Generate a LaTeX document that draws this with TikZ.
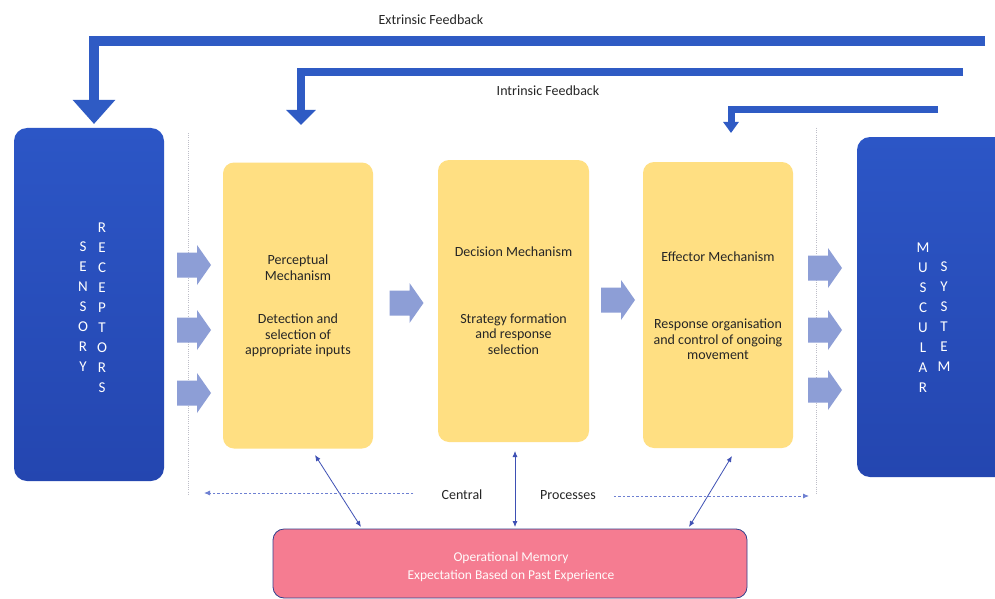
\documentclass[tikz,border=0pt]{standalone}
\usepackage{fontspec}
\setmainfont{Carlito}
\usetikzlibrary{arrows.meta,calc}
\definecolor{fbblue}{RGB}{47,91,196}
\definecolor{boxtop}{RGB}{44,86,198}
\definecolor{boxbot}{RGB}{36,70,176}
\definecolor{mechyel}{RGB}{255,223,130}
\definecolor{blockarr}{RGB}{141,158,214}
\definecolor{mempink}{RGB}{245,124,145}
\definecolor{memedge}{RGB}{50,64,140}
\definecolor{thinarr}{RGB}{62,80,180}
\definecolor{dashblue}{RGB}{110,128,210}
\definecolor{guide}{RGB}{190,190,200}
\tikzset{
  bluebox/.style={rectangle, rounded corners=13pt, top color=boxtop, bottom color=boxbot, draw=none},
  mechbox/.style={rectangle, rounded corners=11pt, fill=mechyel, draw=none, minimum width=150pt},
  mechtext/.style={align=center, font=\fontsize{14}{15.5}\selectfont, text=black!85, inner sep=0pt},
  letters/.style={align=center, font=\fontsize{15}{20}\selectfont, text=white, inner sep=0pt},
  pics/blockarrow/.style={code={\fill[blockarr] (-17,-12.5) -- (3,-12.5) -- (3,-20) -- (17,0) -- (3,20) -- (3,12.5) -- (-17,12.5) -- cycle;}},
  fbline/.style={draw=fbblue, line join=miter},
  thinboth/.style={draw=thinarr, line width=0.8pt, {Latex[length=6pt,width=5pt]}-{Latex[length=6pt,width=5pt]}},
  dashline/.style={draw=dashblue, line width=0.9pt, dash pattern=on 2.5pt off 2pt, -{Latex[length=6pt,width=5pt]}},
  guideline/.style={draw=guide, line width=0.7pt, dash pattern=on 1pt off 1.2pt},
  plain/.style={font=\fontsize{14}{16}\selectfont, text=black!85, inner sep=0pt},
}
\begin{document}
\begin{tikzpicture}[x=1pt,y=-1pt]
\useasboundingbox (0,0) rectangle (995,599);
\clip (0,0) rectangle (995,599);
\fill[white] (0,0) rectangle (995,599);

% guide lines
\coordinate (gl1) at (188,133); \coordinate (gl2) at (188,495);
\coordinate (gr1) at (816,128); \coordinate (gr2) at (816,495);
\draw[guideline] (gl1) -- (gl2);
\draw[guideline] (gr1) -- (gr2);

% blue boxes
\node[bluebox, minimum width=150pt, minimum height=353pt] (sens) at (89,304.5) {};
\node[bluebox, minimum width=160pt, minimum height=340pt] (musc) at (937,307) {};
\node[letters] (sensA) at (83,307) {S\\E\\N\\S\\O\\R\\Y};
\node[letters] (sensB) at (102,307.5) {R\\E\\C\\E\\P\\T\\O\\R\\S};
\node[letters] (muscA) at (923,317.5) {M\\U\\S\\C\\U\\L\\A\\R};
\node[letters] (muscB) at (944,317) {S\\Y\\S\\T\\E\\M};

% mechanism boxes
\node[mechbox, minimum height=286pt] (perc) at (298,305.5) {};
\node[mechbox, minimum height=282pt, minimum width=151pt] (deci) at (513.5,301) {};
\node[mechbox, minimum height=286pt] (effe) at (718,305) {};
\node[mechtext] (percT) at (298,267.5) {Perceptual\\Mechanism};
\node[mechtext] (percD) at (298,335.5) {Detection and\\selection of\\appropriate inputs};
\node[mechtext] (deciT) at (513.5,252) {Decision Mechanism};
\node[mechtext] (deciD) at (513.5,334) {Strategy formation\\and response\\selection};
\node[mechtext] (effeT) at (718,257) {Effector Mechanism};
\node[mechtext] (effeD) at (718,339.5) {Response organisation\\and control of ongoing\\movement};

% block arrows
\pic at (194,265) {blockarrow};
\pic at (194,330) {blockarrow};
\pic at (194,393) {blockarrow};
\pic at (406.5,303) {blockarrow};
\pic at (618,300) {blockarrow};
\pic at (825,268) {blockarrow};
\pic at (825,330) {blockarrow};
\pic at (825,390) {blockarrow};

% feedback arrows
\coordinate (ext0) at (985,41); \coordinate (ext1) at (94,124);
\coordinate (int0) at (963,72); \coordinate (int1) at (301,125);
\coordinate (own0) at (938,109.5); \coordinate (own1) at (731,133);
\draw[fbline, line width=10pt, -{Triangle[width=41pt,length=24pt]}] (ext0) -| (ext1);
\draw[fbline, line width=8pt, -{Triangle[width=29pt,length=15pt]}] (int0) -| (int1);
\draw[fbline, line width=7pt, -{Triangle[width=15pt,length=11pt]}] (own0) -| (own1);
\node[plain] (extL) at (431,20) {Extrinsic Feedback};
\node[plain] (intL) at (548,91) {Intrinsic Feedback};

% memory
\node[rectangle, rounded corners=11pt, fill=mempink, draw=memedge, line width=0.8pt, minimum width=474pt, minimum height=69pt] (mem) at (510,563.5) {};
\node[align=center, font=\fontsize{13.5}{18}\selectfont, text=white!93!pink, inner sep=0pt] (memT) at (511,566.5) {Operational Memory\\Expectation Based on Past Experience};

% double arrows
\coordinate (p1) at (315,455); \coordinate (m1) at (361,527);
\coordinate (p2) at (515,451); \coordinate (m2) at (515,527);
\coordinate (p3) at (732,456); \coordinate (m3) at (689,527);
\draw[thinboth] (p1) -- (m1);
\draw[thinboth] (p2) -- (m2);
\draw[thinboth] (p3) -- (m3);

% central processes
\node[plain] (cen) at (462,495) {Central};
\node[plain] (pro) at (568,495) {Processes};
\coordinate (dl) at (204,493); \coordinate (dr) at (809,496);
\draw[dashline] ($(cen.west)+(-28,-2)$) -- (dl);
\draw[dashline] ($(pro.east)+(18,1)$) -- (dr);
\end{tikzpicture}
\end{document}
